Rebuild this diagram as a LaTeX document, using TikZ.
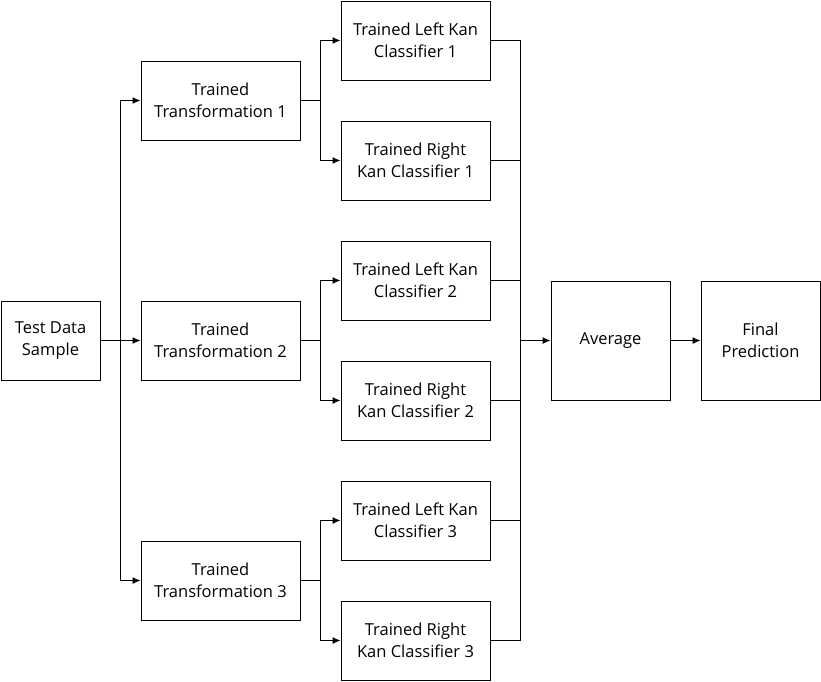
\documentclass[tikz,border=0pt]{standalone}
\usepackage{fontspec}
\setmainfont{Open Sans}
\usetikzlibrary{arrows.meta}
\begin{document}
\begin{tikzpicture}[x=1pt,y=-1pt,
  box/.style={draw,line width=1pt,fill=white,align=center,inner sep=0pt,
    font=\fontsize{16.5}{22}\selectfont},
  conn/.style={line width=1pt},
  arr/.style={line width=1pt,-{Latex[length=8pt,width=7pt]}}]
\useasboundingbox (0,0) rectangle (821,681);
\fill[white] (0,0) rectangle (821,681);
% boxes
\node[box,minimum width=99pt,minimum height=79pt] (test) at (50.5,340.5) {Test Data\\Sample};
\node[box,minimum width=159pt,minimum height=79pt] (t1) at (220.5,100.5) {Trained\\Transformation 1};
\node[box,minimum width=159pt,minimum height=79pt] (t2) at (220.5,340.5) {Trained\\Transformation 2};
\node[box,minimum width=159pt,minimum height=79pt] (t3) at (220.5,580.5) {Trained\\Transformation 3};
\node[box,minimum width=149pt,minimum height=79pt] (l1) at (415.5,40.5) {Trained Left Kan\\Classifier 1};
\node[box,minimum width=149pt,minimum height=79pt] (r1) at (415.5,160.5) {Trained Right\\Kan Classifier 1};
\node[box,minimum width=149pt,minimum height=79pt] (l2) at (415.5,280.5) {Trained Left Kan\\Classifier 2};
\node[box,minimum width=149pt,minimum height=79pt] (r2) at (415.5,400.5) {Trained Right\\Kan Classifier 2};
\node[box,minimum width=149pt,minimum height=79pt] (l3) at (415.5,520.5) {Trained Left Kan\\Classifier 3};
\node[box,minimum width=149pt,minimum height=79pt] (r3) at (415.5,640.5) {Trained Right\\Kan Classifier 3};
\node[box,minimum width=119pt,minimum height=119pt] (avg) at (610.5,340.5) {Average};
\node[box,minimum width=119pt,minimum height=119pt] (fin) at (760.5,340.5) {Final\\Prediction};
% coordinates
\coordinate (s0) at (120.5,340.5);
\coordinate (c1) at (320.5,100.5);
\coordinate (c2) at (320.5,340.5);
\coordinate (c3) at (320.5,580.5);
\coordinate (m) at (520.5,340.5);
% test to transformations
\draw[conn] (test.east) -- (s0);
\draw[arr] (s0) |- (t1.west);
\draw[arr] (s0) -- (t2.west);
\draw[arr] (s0) |- (t3.west);
% transformations to classifiers
\foreach \t/\c/\a/\b in {t1/c1/l1/r1,t2/c2/l2/r2,t3/c3/l3/r3}{
  \draw[conn] (\t.east) -- (\c);
  \draw[arr] (\c) |- (\a.west);
  \draw[arr] (\c) |- (\b.west);
}
% classifiers to average
\foreach \k in {l1,r1,l2,r2,l3,r3}{
  \draw[conn] (\k.east) -| (m);
}
\draw[arr] (m) -- (avg.west);
\draw[arr] (avg.east) -- (fin.west);
\end{tikzpicture}
\end{document}
